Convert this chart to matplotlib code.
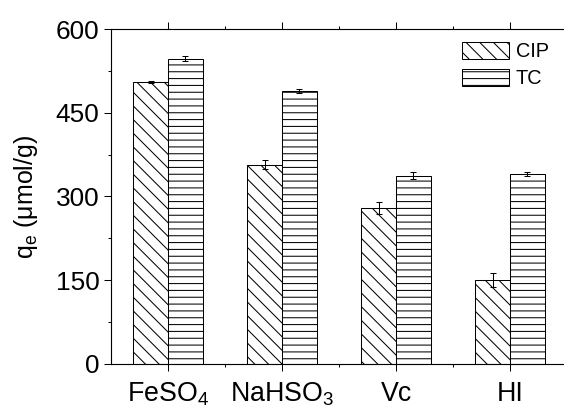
import numpy as np
import matplotlib
matplotlib.use('Agg')
import matplotlib.pyplot as plt
from matplotlib.ticker import MultipleLocator, FixedLocator

# data
reductants = ['FeSO$_4$', 'NaHSO$_3$', 'Vc', 'HI']
cip_qe = [505, 357, 279, 150]
cip_err = [2, 8, 11, 12]
tc_qe = [547, 489, 337, 340]
tc_err = [5, 4, 6, 3]

plt.rcParams['font.family'] = ['Liberation Sans', 'DejaVu Sans']
plt.rcParams['mathtext.fontset'] = 'custom'
plt.rcParams['mathtext.rm'] = 'Liberation Sans'
plt.rcParams['mathtext.it'] = 'Liberation Sans:italic'
plt.rcParams['mathtext.default'] = 'regular'
plt.rcParams['hatch.linewidth'] = 0.9

# dpi 82 so that the hatch spacing matches the original
dpi = 82
fig = plt.figure(figsize=(564.01 / dpi, 415.01 / dpi), dpi=dpi)
ax = fig.add_axes([111 / 564, (415 - 363.8) / 415, 456 / 564, 334.8 / 415])

x = np.arange(len(reductants))
w = 0.307
off = 0.153

ax.bar(x - off, cip_qe, w, yerr=cip_err, color='white', edgecolor='black',
       linewidth=0.9, hatch='\\\\', label='CIP',
       error_kw=dict(ecolor='black', elinewidth=0.9, capsize=3, capthick=0.9))
ax.bar(x + off, tc_qe, w, yerr=tc_err, color='white', edgecolor='black',
       linewidth=0.9, hatch='--', label='TC',
       error_kw=dict(ecolor='black', elinewidth=0.9, capsize=3, capthick=0.9))

ax.set_xlim(-0.5, 3.5)
ax.set_ylim(0, 600)
ax.set_xticks(x)
ax.set_xticklabels(reductants, fontsize=23.5)
ax.xaxis.set_minor_locator(FixedLocator([0.5, 1.5, 2.5]))
ax.yaxis.set_major_locator(MultipleLocator(150))
ax.yaxis.set_minor_locator(MultipleLocator(75))
ax.tick_params(axis='y', which='major', direction='out', length=6, width=0.9,
               labelsize=23, pad=4)
ax.tick_params(axis='y', which='minor', direction='out', length=3, width=0.9)
ax.tick_params(axis='x', which='major', direction='out', length=6, width=0.9,
               pad=9, top=True)
ax.tick_params(axis='x', which='minor', direction='out', length=3, width=0.9,
               top=True)

for s in ax.spines.values():
    s.set_linewidth(1.0)

ax.set_ylabel('q$_e$ (\u03bcmol/g)', fontsize=22)
ax.yaxis.set_label_coords(-0.155, 0.5)

ax.legend(loc='upper left', bbox_to_anchor=(462 / 564, (415 - 42) / 415),
          bbox_transform=fig.transFigure, frameon=False, fontsize=17.5,
          handlelength=2.35, handleheight=0.9, handletextpad=0.35,
          labelspacing=0.4, borderpad=0, borderaxespad=0)

fig.savefig('out.png', dpi=dpi)
